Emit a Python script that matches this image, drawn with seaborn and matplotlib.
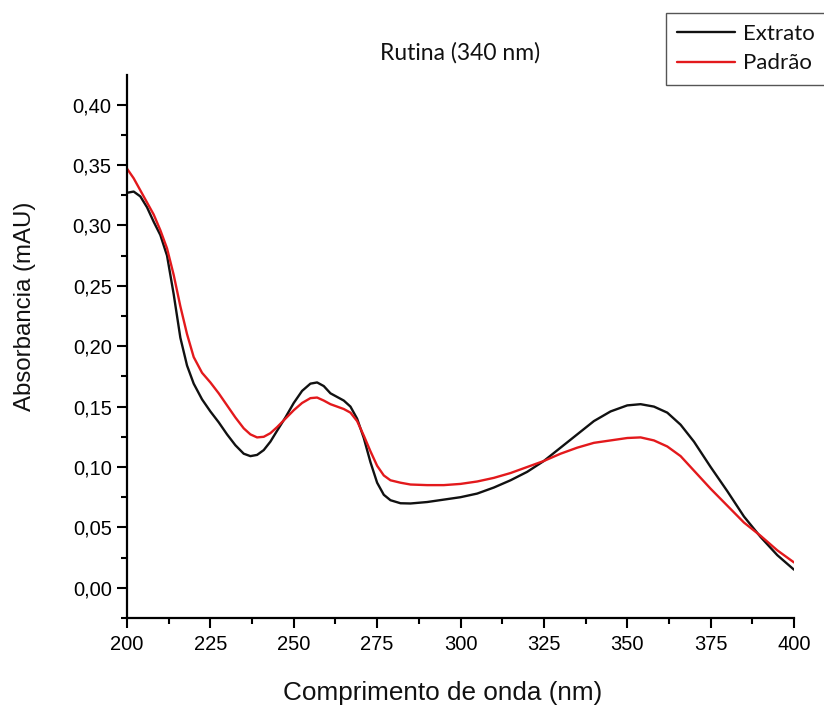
import matplotlib
matplotlib.use("Agg")
import matplotlib.pyplot as plt
import seaborn as sns
import pandas as pd
from matplotlib.ticker import MultipleLocator, FixedLocator, FixedFormatter

# ---- data ----
extrato_x = [200, 202, 204, 206, 208, 210, 212, 214, 216, 218, 220, 222.5, 225, 227.5, 230,
             232.5, 235, 237, 239, 241, 243, 245, 247.5, 250, 252.5, 255, 257, 259, 261, 263,
             265, 267, 269, 271, 273, 275, 277, 279, 282, 285, 290, 295, 300, 305, 310, 315,
             320, 325, 330, 335, 340, 345, 350, 354, 358, 362, 366, 370, 375, 380, 385, 390,
             395, 400]
extrato_y = [0.327, 0.328, 0.324, 0.315, 0.303, 0.292, 0.275, 0.243, 0.207, 0.184, 0.169, 0.156,
             0.146, 0.137, 0.127, 0.118, 0.111, 0.109, 0.110, 0.114, 0.121, 0.130, 0.141, 0.153,
             0.163, 0.169, 0.170, 0.167, 0.161, 0.158, 0.155, 0.150, 0.140, 0.124, 0.104, 0.087,
             0.077, 0.0725, 0.070, 0.0698, 0.071, 0.073, 0.075, 0.078, 0.083, 0.089, 0.096, 0.105,
             0.116, 0.127, 0.138, 0.146, 0.151, 0.152, 0.150, 0.145, 0.135, 0.121, 0.100, 0.080,
             0.059, 0.042, 0.027, 0.015]

padrao_x = [200, 202, 204, 206, 208, 210, 212, 214, 216, 218, 220, 222.5, 225, 227.5, 230,
            232.5, 235, 237, 239, 241, 243, 245, 247.5, 250, 252.5, 255, 257, 259, 261, 263,
            265, 267, 269, 271, 273, 275, 277, 279, 282, 285, 290, 295, 300, 305, 310, 315,
            320, 325, 330, 335, 340, 345, 350, 354, 358, 362, 366, 370, 375, 380, 385, 390,
            395, 400]
padrao_y = [0.347, 0.339, 0.329, 0.319, 0.309, 0.296, 0.281, 0.259, 0.233, 0.210, 0.191, 0.178,
            0.170, 0.161, 0.151, 0.141, 0.132, 0.127, 0.1245, 0.125, 0.128, 0.133, 0.140, 0.147,
            0.153, 0.157, 0.1575, 0.155, 0.152, 0.150, 0.148, 0.145, 0.138, 0.126, 0.113, 0.101,
            0.093, 0.089, 0.087, 0.0855, 0.085, 0.085, 0.086, 0.088, 0.091, 0.095, 0.100, 0.105,
            0.111, 0.116, 0.120, 0.122, 0.124, 0.1245, 0.122, 0.117, 0.109, 0.097, 0.082, 0.068,
            0.054, 0.043, 0.031, 0.021]

series_names = ["Extrato", "Padrão"]
x_ticks = [200, 225, 250, 275, 300, 325, 350, 375, 400]
x_ticklabels = ["200", "225", "250", "275", "300", "325", "350", "375", "400"]
y_ticks = [0.00, 0.05, 0.10, 0.15, 0.20, 0.25, 0.30, 0.35, 0.40]
y_ticklabels = ["0,00", "0,05", "0,10", "0,15", "0,20", "0,25", "0,30", "0,35", "0,40"]

title = "Rutina (340 nm)"
xlabel = "Comprimento de onda (nm)"
ylabel = "Absorbancia (mAU)"

df = pd.concat([
    pd.DataFrame({"x": extrato_x, "y": extrato_y, "serie": series_names[0]}),
    pd.DataFrame({"x": padrao_x, "y": padrao_y, "serie": series_names[1]}),
], ignore_index=True)

# ---- plot ----
sns.set_style("ticks")
plt.rcParams["font.family"] = ["Liberation Sans", "DejaVu Sans"]

fig = plt.figure(figsize=(8.24, 7.11), dpi=100)
ax = fig.add_axes([127 / 824, 1 - 618 / 711, (794 - 127) / 824, (618 - 75) / 711])

sns.lineplot(data=df, x="x", y="y", hue="serie", sort=False,
             palette={"Extrato": "#111111", "Padrão": "#e3191c"},
             linewidth=1.7, ax=ax, estimator=None)

ax.set_xlim(200, 400)
ax.set_ylim(-0.025, 0.4245)

ax.xaxis.set_major_locator(FixedLocator(x_ticks))
ax.xaxis.set_major_formatter(FixedFormatter(x_ticklabels))
ax.yaxis.set_major_locator(FixedLocator(y_ticks))
ax.yaxis.set_major_formatter(FixedFormatter(y_ticklabels))
ax.xaxis.set_minor_locator(MultipleLocator(12.5))
ax.yaxis.set_minor_locator(MultipleLocator(0.025))

sns.despine(ax=ax)
for s in ["left", "bottom"]:
    ax.spines[s].set_linewidth(1.6)
    ax.spines[s].set_color("black")
ax.tick_params(which="major", direction="out", length=7, width=1.5, labelsize=14.5, colors="black")
ax.tick_params(axis="x", which="major", pad=5)
ax.tick_params(axis="y", which="major", pad=4)
ax.tick_params(which="minor", direction="out", length=4, width=1.5, colors="black")

ax.set_xlabel(xlabel, fontsize=18.8, va="center", color="#111111")
ax.xaxis.set_label_coords(0.4738, -0.138)
ax.set_ylabel(ylabel, fontsize=17.3, va="center", color="#111111")
ax.yaxis.set_label_coords(-0.153, 0.5746)
ax.set_title(title, fontsize=16.5, family=["Lato", "DejaVu Sans"], pad=11, color="#111111")

leg = ax.get_legend()
handles = leg.legend_handles
leg.remove()
lg = fig.legend(handles, series_names, loc="upper left",
                bbox_to_anchor=(666 / 824, 1 - 13 / 711),
                bbox_transform=fig.transFigure,
                frameon=True, fancybox=False, edgecolor="#555555", framealpha=1,
                prop={"family": ["Lato", "DejaVu Sans"], "size": 16},
                handlelength=2.6, handletextpad=0.35, borderpad=0.5,
                labelspacing=0.42, borderaxespad=0)
lg.get_frame().set_linewidth(1.0)
for t in lg.get_texts():
    t.set_color("#111111")

fig.savefig("out.png", dpi=100)
